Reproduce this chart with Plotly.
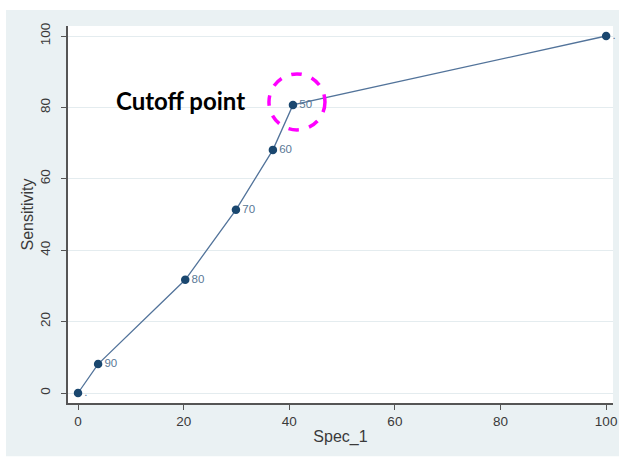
import plotly.graph_objects as go

spec_1 = [0, 3.8, 20.3, 29.9, 36.9, 40.7, 100]
sensitivity = [0, 8.1, 31.7, 51.3, 68.1, 80.7, 100]
point_labels = [".", "90", "80", "70", "60", "50", "."]
x_ticks = [0, 20, 40, 60, 80, 100]
y_ticks = [0, 20, 40, 60, 80, 100]
cutoff_index = 5
annotation_text = "Cutoff point"

navy = "#1a476f"
bg = "#eaf1f3"

fig = go.Figure()
fig.add_trace(go.Scatter(
    x=spec_1, y=sensitivity, mode="lines+markers+text",
    text=point_labels, textposition="middle right",
    textfont=dict(family="Liberation Sans, Arial", size=11.5, color="#5a7896"),
    line=dict(color="#52739a", width=1.3),
    marker=dict(color=navy, size=8.5),
    showlegend=False, cliponaxis=False,
))

# outer background panel
fig.add_shape(type="rect", xref="paper", yref="paper",
              x0=-0.1138, x1=1.011, y0=-0.141, y1=1.0424,
              fillcolor=bg, line=dict(width=0), layer="below")
fig.add_shape(type="rect", xref="paper", yref="paper",
              x0=0, x1=1, y0=0, y1=1,
              fillcolor="white", line=dict(width=0), layer="below")

# dashed circle around cutoff point
cx, cy = spec_1[cutoff_index], sensitivity[cutoff_index]
fig.add_shape(type="circle", xref="x", yref="y",
              xsizemode="pixel", ysizemode="pixel",
              xanchor=cx, yanchor=cy,
              x0=-24, x1=32, y0=-25, y1=31,
              line=dict(color="#ff00ff", width=3.5, dash="dash"))

fig.add_annotation(x=cx, y=cy, xref="x", yref="y", text="<b>" + annotation_text + "</b>",
                   showarrow=False, xanchor="right", yanchor="middle",
                   xshift=-46, yshift=4,
                   font=dict(family="Lato, Open Sans", size=24, color="black"))

tick_font = dict(family="Liberation Sans, Arial", size=13.5, color="#3a3a3a")
title_font = dict(family="Liberation Sans, Arial", size=16, color="#3a3a3a")
fig.update_xaxes(
    range=[-1.9, 101.3], tickvals=x_ticks, showgrid=False, zeroline=False,
    showline=True, linecolor="#555555", linewidth=1.5, automargin=False,
    ticks="outside", ticklen=5, tickcolor="#555555", tickwidth=1.3,
    tickfont=tick_font, title=dict(text="Spec_1", font=title_font, standoff=3),
)
fig.update_yaxes(
    range=[-2.8, 102.8], tickvals=y_ticks, showgrid=True, gridcolor="#e4ecef",
    gridwidth=1, zeroline=False, automargin=False,
    showline=True, linecolor="#555555", linewidth=1.5,
    ticks="outside", ticklen=5, tickcolor="#555555", tickwidth=1.3,
    tickangle=-90, tickfont=tick_font, ticklabelstandoff=6,
    title=dict(text="Sensitivity", font=title_font, standoff=0),
)
fig.update_layout(
    width=628, height=459,
    margin=dict(l=68, r=15, t=26, b=56, autoexpand=False),
    paper_bgcolor="white", plot_bgcolor="white",
)
fig.write_html("out.html", config={"displayModeBar": False},
               post_script="document.body.style.margin='0px';")
